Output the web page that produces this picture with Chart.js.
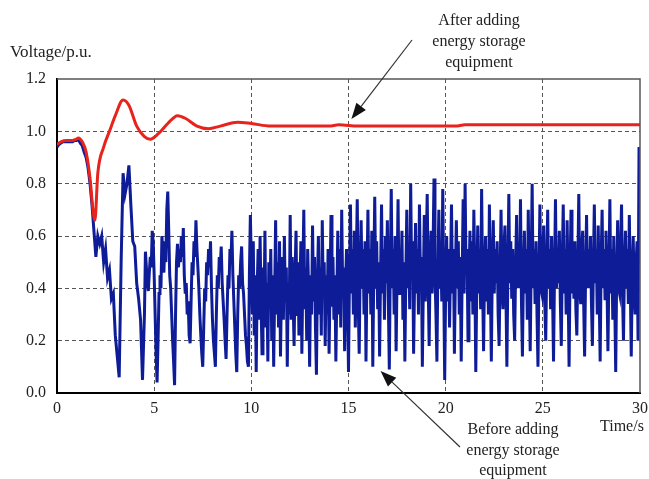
<!DOCTYPE html>
<html><head><meta charset="utf-8">
<script src="https://cdn.jsdelivr.net/npm/chart.js@4/dist/chart.umd.min.js"></script>
<style>html,body{margin:0;padding:0;background:#fff}#wrap{width:649px;height:479px}</style>
</head><body><div id="wrap"><canvas id="c" width="649" height="479"></canvas></div>
<script>
// ---- data ----
const xTicks = [0, 5, 10, 15, 20, 25, 30];
const yTicks = [0.0, 0.2, 0.4, 0.6, 0.8, 1.0, 1.2];

// After adding energy storage equipment (red)
const redTimes = [0,0.2,0.5,0.8,1.0,1.1,1.3,1.5,1.7,1.85,1.95,2.1,2.4,2.7,3.0,3.4,3.7,4.1,4.5,4.8,5.2,5.7,6.2,6.6,7.2,7.8,8.4,9.3,10.0,11,12,13,14,14.5,15.5,17,19,20.5,21,23,25,27,30];
const redValues = [0.95,0.96,0.965,0.965,0.97,0.975,0.96,0.92,0.82,0.70,0.66,0.84,0.94,1.0,1.06,1.12,1.10,1.02,0.98,0.97,0.99,1.03,1.06,1.05,1.02,1.01,1.02,1.035,1.03,1.02,1.02,1.02,1.02,1.025,1.02,1.02,1.02,1.02,1.025,1.025,1.025,1.025,1.025];

// Before adding energy storage equipment (blue)
// 0 s - 4.4 s sampled every 0.1 s
const blueCoarseStep = 0.1;
const blueCoarse = [
0.94,0.95,0.955,0.96,0.96,0.96,0.96,0.96,0.96,0.965,
0.965,0.97,0.955,0.945,0.92,0.90,0.86,0.80,0.72,0.62,
0.52,0.60,0.57,0.60,0.50,0.55,0.44,0.47,0.36,0.38,
0.22,0.14,0.06,0.50,0.84,0.76,0.80,0.87,0.72,0.58,
0.56,0.42,0.36,0.28,0.05
];
// 4.5 s - 30 s sampled every 0.05 s
const blueFineStart = 4.5;
const blueFineStep = 0.05;
const blueFine = [
0.30,0.54,0.48,0.42,0.39,0.46,0.52,0.48,0.62,0.58,
0.45,0.30,0.15,0.04,0.20,0.38,0.45,0.40,0.60,0.52,0.46,0.58,0.50,0.70,0.77,0.62,0.45,0.40,0.30,0.20,
0.12,0.03,0.30,0.50,0.57,0.48,0.55,0.50,0.60,0.52,0.63,0.45,0.38,0.42,0.30,0.35,0.22,0.19,0.35,0.50,
0.45,0.58,0.52,0.66,0.55,0.48,0.40,0.30,0.22,0.15,0.10,0.25,0.40,0.35,0.50,0.45,0.55,0.48,0.58,0.40,
0.28,0.20,0.15,0.10,0.30,0.45,0.40,0.52,0.48,0.56,0.42,0.35,0.28,0.20,0.13,0.30,0.45,0.40,0.55,0.50,
0.62,0.45,0.35,0.25,0.15,0.08,0.30,0.45,0.40,0.50,0.56,0.42,0.38,0.30,0.22,0.18,0.12,0.10,0.45,0.68,
0.50,0.30,0.58,0.22,0.45,0.08,0.40,0.55,0.28,0.60,0.35,0.15,0.48,0.30,0.62,0.25,0.42,0.12,0.50,0.33,
0.55,0.20,0.45,0.10,0.38,0.66,0.30,0.50,0.25,0.58,0.14,0.40,0.52,0.28,0.60,0.35,0.48,0.10,0.42,0.30,
0.68,0.28,0.52,0.35,0.18,0.45,0.62,0.30,0.50,0.22,0.40,0.58,0.15,0.45,0.70,0.32,0.48,0.20,0.55,0.38,
0.10,0.45,0.30,0.64,0.35,0.52,0.25,0.07,0.42,0.60,0.30,0.48,0.22,0.66,0.38,0.50,0.18,0.45,0.30,0.55,
0.15,0.40,0.68,0.33,0.52,0.28,0.45,0.12,0.38,0.62,0.30,0.55,0.25,0.70,0.40,0.48,0.16,0.42,0.55,0.35,
0.08,0.45,0.72,0.38,0.55,0.30,0.62,0.25,0.50,0.74,0.35,0.15,0.48,0.66,0.40,0.55,0.30,0.58,0.12,0.45,
0.70,0.38,0.55,0.30,0.62,0.10,0.45,0.75,0.40,0.58,0.32,0.50,0.14,0.45,0.72,0.38,0.55,0.28,0.60,0.42,
0.66,0.35,0.09,0.48,0.78,0.40,0.55,0.30,0.60,0.16,0.45,0.74,0.38,0.55,0.42,0.62,0.28,0.50,0.12,0.45,
0.70,0.40,0.55,0.32,0.80,0.45,0.58,0.15,0.42,0.65,0.38,0.55,0.30,0.72,0.45,0.52,0.10,0.40,0.68,0.35,
0.55,0.76,0.42,0.18,0.50,0.62,0.38,0.55,0.82,0.45,0.30,0.12,0.48,0.70,0.40,0.55,0.35,0.78,0.42,0.05,
0.40,0.60,0.35,0.55,0.25,0.48,0.72,0.38,0.55,0.15,0.45,0.66,0.40,0.58,0.30,0.52,0.12,0.45,0.74,0.38,
0.80,0.45,0.55,0.20,0.42,0.62,0.35,0.58,0.30,0.70,0.45,0.08,0.40,0.64,0.38,0.55,0.32,0.78,0.42,0.16,
0.45,0.60,0.35,0.55,0.30,0.72,0.42,0.12,0.48,0.66,0.38,0.55,0.42,0.58,0.30,0.18,0.45,0.70,0.40,0.32,
0.55,0.64,0.38,0.10,0.45,0.76,0.42,0.58,0.36,0.55,0.30,0.20,0.48,0.68,0.40,0.56,0.40,0.74,0.35,0.14,
0.45,0.62,0.38,0.55,0.28,0.70,0.42,0.16,0.48,0.80,0.40,0.55,0.34,0.58,0.30,0.10,0.45,0.72,0.40,0.38,
0.55,0.64,0.35,0.20,0.48,0.70,0.40,0.55,0.32,0.60,0.38,0.12,0.45,0.74,0.40,0.55,0.42,0.62,0.35,0.18,
0.50,0.72,0.38,0.55,0.30,0.66,0.42,0.10,0.45,0.70,0.38,0.55,0.36,0.58,0.32,0.22,0.48,0.76,0.40,0.34,
0.55,0.62,0.35,0.14,0.45,0.68,0.40,0.55,0.40,0.60,0.35,0.18,0.48,0.72,0.42,0.55,0.30,0.64,0.38,0.12,
0.50,0.70,0.40,0.55,0.36,0.62,0.42,0.16,0.45,0.74,0.38,0.55,0.28,0.60,0.35,0.08,0.45,0.66,0.40,0.38,
0.55,0.72,0.38,0.20,0.48,0.62,0.40,0.55,0.34,0.68,0.42,0.14,0.45,0.60,0.38,0.30,0.50,0.58,0.20,0.94,
0.50
];

const yTitle = "Voltage/p.u.";
const xTitle = "Time/s";
const afterText = ["After adding", "energy storage", "equipment"];
const beforeText = ["Before adding", "energy storage", "equipment"];

// ---- build ----
const redData = redTimes.map((t, i) => ({x: t, y: redValues[i]}));
const blueData = blueCoarse.map((v, i) => ({x: +(i * blueCoarseStep).toFixed(3), y: v}))
  .concat(blueFine.map((v, i) => ({x: +(blueFineStart + i * blueFineStep).toFixed(3), y: v})));

const SERIF = '"Liberation Serif", "Times New Roman", serif';

function arrow(ctx, x1, y1, x2, y2) {
  const ang = Math.atan2(y2 - y1, x2 - x1);
  const hl = 16, hw = 6;
  const bx = x2 - hl * Math.cos(ang), by = y2 - hl * Math.sin(ang);
  ctx.strokeStyle = '#333'; ctx.fillStyle = '#111'; ctx.lineWidth = 1.2;
  ctx.beginPath(); ctx.moveTo(x1, y1); ctx.lineTo(bx, by); ctx.stroke();
  ctx.beginPath();
  ctx.moveTo(x2, y2);
  ctx.lineTo(bx + hw * Math.sin(ang), by - hw * Math.cos(ang));
  ctx.lineTo(bx - hw * Math.sin(ang), by + hw * Math.cos(ang));
  ctx.closePath(); ctx.fill();
}

const decor = {
  id: 'decor',
  afterDraw(chart) {
    const {ctx, chartArea: a, scales: {x, y}} = chart;
    ctx.save();
    ctx.strokeStyle = '#555'; ctx.lineWidth = 1.5; ctx.setLineDash([]);
    ctx.beginPath();
    ctx.moveTo(a.left, a.top); ctx.lineTo(a.right, a.top); ctx.lineTo(a.right, a.bottom);
    ctx.stroke();
    ctx.fillStyle = '#222';
    ctx.font = '17px ' + SERIF;
    ctx.textAlign = 'left'; ctx.textBaseline = 'middle';
    ctx.fillText(yTitle, 10, 53);
    ctx.font = '16px ' + SERIF;
    ctx.fillText(xTitle, 600, 427);
    ctx.textAlign = 'center';
    afterText.forEach((s, i) => ctx.fillText(s, 479, 21 + i * 21));
    beforeText.forEach((s, i) => ctx.fillText(s, 513, 430 + i * 20.5));
    arrow(ctx, 412, 40, x.getPixelForValue(15.15), y.getPixelForValue(1.047));
    arrow(ctx, 460, 447, x.getPixelForValue(16.65), y.getPixelForValue(0.084));
    ctx.restore();
  }
};

new Chart(document.getElementById('c'), {
  type: 'line',
  data: {
    datasets: [
      {label: 'After', data: redData, borderColor: '#e8221c', borderWidth: 3, pointRadius: 0,
       cubicInterpolationMode: 'monotone', fill: false},
      {label: 'Before', data: blueData, borderColor: '#0e1c98', borderWidth: 3, pointRadius: 0,
       tension: 0, fill: false}
    ]
  },
  options: {
    responsive: false, animation: false, devicePixelRatio: 1,
    layout: {padding: {left: 0, top: 79, right: 9, bottom: 0}},
    plugins: {legend: {display: false}, tooltip: {enabled: false}},
    scales: {
      x: {
        type: 'linear', min: 0, max: 30, z: 1,
        afterBuildTicks: s => { s.ticks = xTicks.map(v => ({value: v})); },
        afterFit: s => { s.height = 86; s.paddingLeft = 0; s.paddingRight = 0; },
        ticks: {color: '#222', font: {family: SERIF, size: 16}, padding: 6, maxRotation: 0},
        grid: {drawTicks: false, lineWidth: 1,
               color: c => (c.tick && (c.tick.value === 0 || c.tick.value === 30)) ? 'rgba(0,0,0,0)' : '#555'},
        border: {display: true, color: '#000', width: 2, dash: [4, 3]}
      },
      y: {
        type: 'linear', min: 0, max: 1.2, z: 1,
        afterBuildTicks: s => { s.ticks = yTicks.map(v => ({value: v})); },
        afterFit: s => { s.width = 57; s.paddingTop = 0; s.paddingBottom = 0; },
        ticks: {color: '#222', font: {family: SERIF, size: 16}, padding: 11,
                callback: v => v.toFixed(1)},
        grid: {drawTicks: false, lineWidth: 1,
               color: c => (c.tick && (Math.abs(c.tick.value) < 1e-9 || Math.abs(c.tick.value - 1.2) < 1e-9)) ? 'rgba(0,0,0,0)' : '#555'},
        border: {display: true, color: '#000', width: 2, dash: [4, 3]}
      }
    }
  },
  plugins: [decor]
});
</script>
</body></html>
